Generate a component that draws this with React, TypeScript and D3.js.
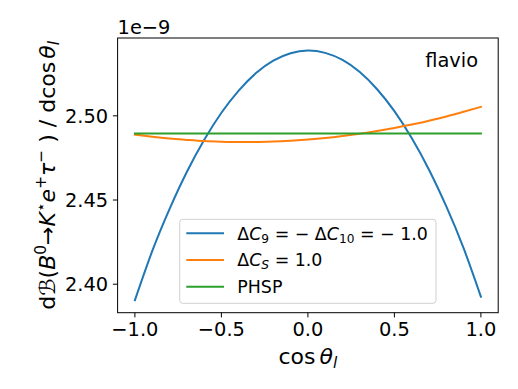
import React, { useEffect, useRef } from "react";
import * as d3 from "d3";

// cos(theta_l) grid and dB/dcos values (in units of 1e-9)
const cosTheta = [-1.0, -0.9, -0.8, -0.7, -0.6, -0.5, -0.4, -0.3, -0.2, -0.1, 0.0, 0.1, 0.2, 0.3, 0.4, 0.5, 0.6, 0.7, 0.8, 0.9, 1.0];
const deltaC9 = [2.3905, 2.4196, 2.4446, 2.4666, 2.4856, 2.5018, 2.515, 2.5254, 2.5328, 2.5372, 2.5388, 2.5374, 2.5332, 2.526, 2.5158, 2.5028, 2.4868, 2.468, 2.4462, 2.4214, 2.3926];
const deltaCS = [2.4889, 2.4876, 2.4865, 2.4857, 2.485, 2.4846, 2.4844, 2.4845, 2.4847, 2.4852, 2.4859, 2.4868, 2.488, 2.4894, 2.491, 2.4928, 2.4948, 2.4971, 2.4996, 2.5024, 2.5053];
const phsp = [2.4895, 2.4895, 2.4895, 2.4895, 2.4895, 2.4895, 2.4895, 2.4895, 2.4895, 2.4895, 2.4895, 2.4895, 2.4895, 2.4895, 2.4895, 2.4895, 2.4895, 2.4895, 2.4895, 2.4895, 2.4895];

const xTicks = [-1.0, -0.5, 0.0, 0.5, 1.0];
const yTicks = [2.40, 2.45, 2.50];

const seriesColors = ["#1f77b4", "#ff7f0e", "#2ca02c"];

const W = 518;
const H = 389;
const left = 117.6, right = 498.2, top = 38, bottom = 312.7;
const FONT = "DejaVu Sans, sans-serif";
const tickSize = 19.4;
const labelSize = 22;
const legSize = 17.4;

export default function App() {
  const ref = useRef<SVGSVGElement>(null);

  const xScale = d3.scaleLinear().domain([-1.1, 1.1]).range([left, right]);
  const allY = [...deltaC9, ...deltaCS, ...phsp];
  const [yMin, yMax] = d3.extent(allY) as [number, number];
  const pad = (yMax - yMin) * 0.05;
  const yScale = d3.scaleLinear().domain([yMin - pad, yMax + pad]).range([bottom, top]);

  useEffect(() => {
    const svg = d3.select(ref.current);
    const plot = svg.select(".lines");

    const line = d3.line<number>()
      .x((d, i) => xScale(cosTheta[i]))
      .y(d => yScale(d))
      .curve(d3.curveNatural);

    plot.selectAll("path")
      .data([deltaC9, deltaCS, phsp])
      .join("path")
      .attr("d", d => line(d))
      .attr("fill", "none")
      .attr("stroke", (d, i) => seriesColors[i])
      .attr("stroke-width", 2)
      .attr("stroke-linecap", "square");

    const fmtX = d3.format(".1f");
    const fmtY = d3.format(".2f");

    const xAxis = svg.select(".x-axis");
    xAxis.selectAll("g").data(xTicks).join("g").each(function (d) {
      const g = d3.select(this);
      g.selectAll("*").remove();
      g.append("line")
        .attr("x1", xScale(d)).attr("x2", xScale(d))
        .attr("y1", bottom).attr("y2", bottom + 4.7)
        .attr("stroke", "#000").attr("stroke-width", 1);
      g.append("text")
        .attr("x", xScale(d)).attr("y", bottom + 23.5)
        .attr("text-anchor", "middle")
        .attr("font-size", tickSize)
        .attr("font-family", FONT)
        .text(fmtX(d));
    });

    const yAxis = svg.select(".y-axis");
    yAxis.selectAll("g").data(yTicks).join("g").each(function (d) {
      const g = d3.select(this);
      g.selectAll("*").remove();
      g.append("line")
        .attr("x1", left - 4.7).attr("x2", left)
        .attr("y1", yScale(d)).attr("y2", yScale(d))
        .attr("stroke", "#000").attr("stroke-width", 1);
      g.append("text")
        .attr("x", left - 9.5).attr("y", yScale(d) + 7)
        .attr("text-anchor", "end")
        .attr("font-size", tickSize)
        .attr("font-family", FONT)
        .text(fmtY(d));
    });
  }, []);

  const sup = { fontSize: 15.4 };
  const legendLabels = [0, 1, 2];
  const rowY = [233.3, 260, 286.7];

  return (
    <svg ref={ref} width={W} height={H} style={{ position: "absolute", left: 0, top: 0, background: "#fff" }} fontFamily={FONT}>
      <rect x={0} y={0} width={W} height={H} fill="#fff" />
      <g className="lines" />
      <rect x={left} y={top} width={right - left} height={bottom - top} fill="none" stroke="#000" strokeWidth={1} />
      <g className="x-axis" />
      <g className="y-axis" />

      <text x={left} y={34} fontSize={tickSize}>1e−9</text>
      <text x={478} y={67} fontSize={tickSize} textAnchor="end">flavio</text>

      {/* x label */}
      <text x={(left + right) / 2} y={364} fontSize={labelSize} textAnchor="middle">
        <tspan>cos</tspan>
        <tspan dx={4} fontStyle="italic">θ</tspan>
        <tspan fontStyle="italic" fontSize={15.4} dy={4}>l</tspan>
      </text>

      {/* y label */}
      <text transform={`translate(55,${(top + bottom) / 2}) rotate(-90)`} fontSize={labelSize} textAnchor="middle">
        <tspan>d</tspan>
        <tspan fontStyle="italic">ℬ</tspan>
        <tspan>(</tspan>
        <tspan fontStyle="italic">B</tspan>
        <tspan {...sup} dy={-9}>0</tspan>
        <tspan dy={9}>→</tspan>
        <tspan fontStyle="italic">K</tspan>
        <tspan {...sup} dy={-9}>⋆</tspan>
        <tspan dy={9} fontStyle="italic">e</tspan>
        <tspan {...sup} dy={-9}>+</tspan>
        <tspan dy={9} fontStyle="italic">τ</tspan>
        <tspan {...sup} dy={-9}>−</tspan>
        <tspan dy={9}> ) / dcos</tspan>
        <tspan dx={3} fontStyle="italic">θ</tspan>
        <tspan fontStyle="italic" fontSize={15.4} dy={4}>l</tspan>
      </text>

      {/* legend */}
      <rect x={179.7} y={219.3} width={256.3} height={84} rx={3} fill="#fff" fillOpacity={0.8} stroke="#d0d0d0" strokeWidth={1} />
      {legendLabels.map(i => (
        <line key={i} x1={186.3} x2={224} y1={rowY[i]} y2={rowY[i]} stroke={seriesColors[i]} strokeWidth={2} />
      ))}
      <text x={237.3} y={rowY[0] + 6.2} fontSize={legSize}>
        <tspan>Δ</tspan>
        <tspan fontStyle="italic">C</tspan>
        <tspan fontSize={12.2} dy={3}>9</tspan>
        <tspan dy={-3}>{" =  − Δ"}</tspan>
        <tspan fontStyle="italic">C</tspan>
        <tspan fontSize={12.2} dy={3}>10</tspan>
        <tspan dy={-3}>{" =  − 1.0"}</tspan>
      </text>
      <text x={237.3} y={rowY[1] + 6.2} fontSize={legSize}>
        <tspan>Δ</tspan>
        <tspan fontStyle="italic">C</tspan>
        <tspan fontSize={12.2} fontStyle="italic" dy={3}>S</tspan>
        <tspan dy={-3}>{" = 1.0"}</tspan>
      </text>
      <text x={237.3} y={rowY[2] + 6.2} fontSize={legSize}>PHSP</text>
    </svg>
  );
}
